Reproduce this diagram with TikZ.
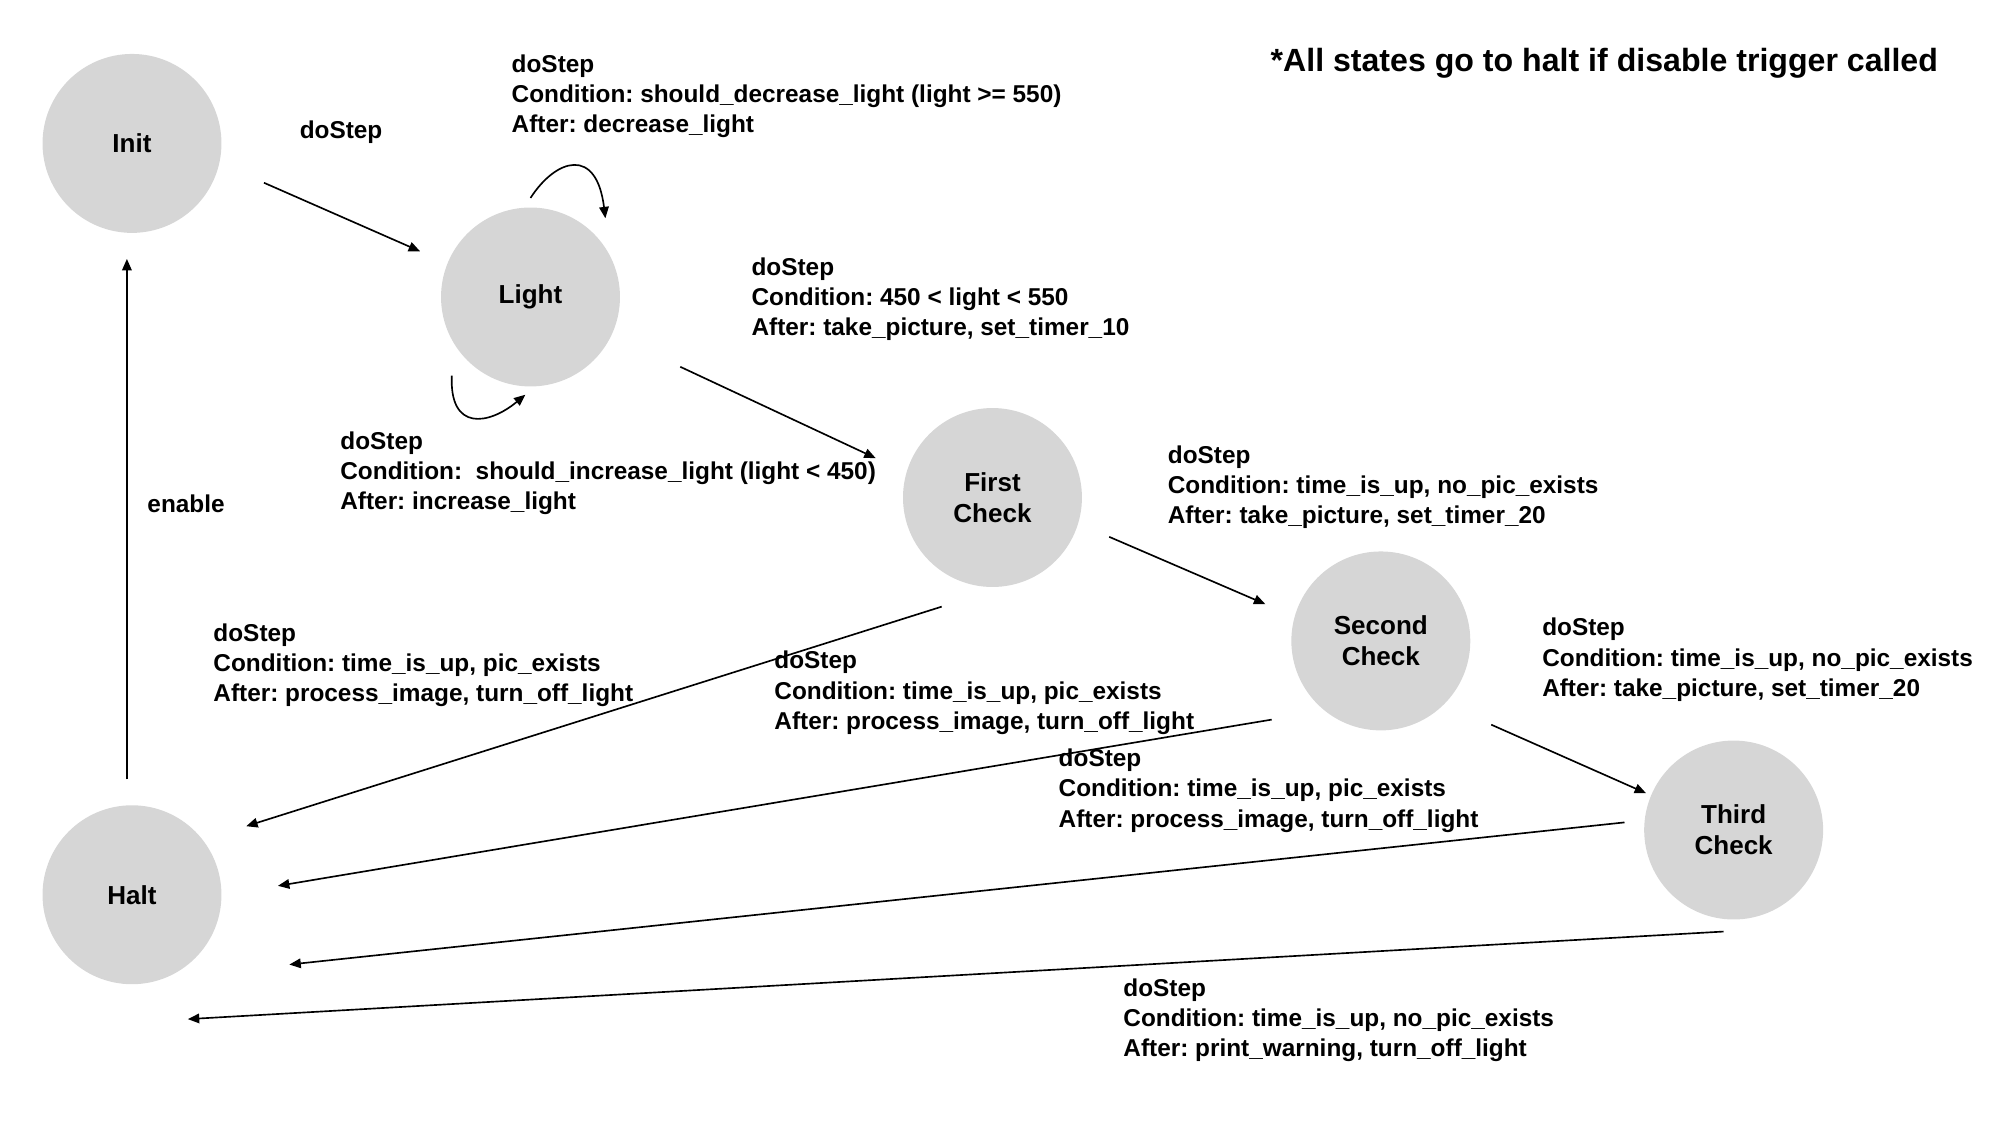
\documentclass[tikz,border=0pt]{standalone}
\usepackage{fontspec}
\setmainfont{Liberation Sans}
\usetikzlibrary{arrows.meta}
\definecolor{stategray}{RGB}{214,214,214}
\newcommand{\lblfont}{\frenchspacing\fontsize{19.2}{23.8}\selectfont\bfseries}
\newcommand{\statefont}{\frenchspacing\fontsize{20.5}{24.5}\selectfont\bfseries}
\newcommand{\notefont}{\frenchspacing\fontsize{25.3}{30}\selectfont\bfseries}
\begin{document}
\begin{tikzpicture}[x=1pt,y=-1pt,
  state/.style={circle, fill=stategray, minimum size=141pt, inner sep=0pt, align=center, font=\statefont},
  lab/.style={anchor=north west, inner sep=0pt, align=left, font=\lblfont},
  conn/.style={line width=1.3pt, -{Triangle[length=9pt,width=7.5pt]}}]
\useasboundingbox (0,0) rectangle (1568,885.6);

% states
\node[state] (init) at (104,113) {Init};
\node[state] (light) at (418,234) {Light};
\node[state] (first) at (782,392) {First\\Check};
\node[state] (second) at (1088,505) {Second\\Check};
\node[state] (third) at (1366,654) {Third\\Check};
\node[state] (halt) at (104,705) {Halt};

% connector end points
\coordinate (a1s) at (208,144);  \coordinate (a1e) at (331,198);
\coordinate (t1s) at (418,156);  \coordinate (t1e) at (477,172);
\coordinate (b1s) at (356,296);  \coordinate (b1e) at (414,311);
\coordinate (a2s) at (536,289);  \coordinate (a2e) at (690,361);
\coordinate (a3s) at (874,423);  \coordinate (a3e) at (997,476);
\coordinate (a4s) at (1175,571); \coordinate (a4e) at (1297,625);
\coordinate (h1s) at (742,478);  \coordinate (h1e) at (194,651);
\coordinate (h2s) at (1002,567); \coordinate (h2e) at (219,698);
\coordinate (h3s) at (1280,648); \coordinate (h3e) at (228,760);
\coordinate (h4s) at (1358,734); \coordinate (h4e) at (148,803);
\coordinate (e1s) at (100,614);  \coordinate (e1e) at (100,204);

% connectors
\draw[conn] (a1s) -- (a1e);
\draw[conn] (t1s) .. controls (438,125) and (470,115) .. (t1e);
\draw[conn] (b1s) .. controls (354,340) and (385,335) .. (b1e);
\draw[conn] (a2s) -- (a2e);
\draw[conn] (a3s) -- (a3e);
\draw[conn] (a4s) -- (a4e);
\draw[conn] (h1s) -- (h1e);
\draw[conn] (h2s) -- (h2e);
\draw[conn] (h3s) -- (h3e);
\draw[conn] (h4s) -- (h4e);
\draw[conn] (e1s) -- (e1e);

% labels
\node[lab] (linit) at (236,95) {doStep};
\node[lab] (ldec) at (403,43) {doStep\\Condition: should\_decrease\_light (light >= 550)\\After: decrease\_light};
\node[lab] (linc) at (268,340) {doStep\\Condition:\ \ should\_increase\_light (light < 450)\\After: increase\_light};
\node[lab] (lfirst) at (592,203) {doStep\\Condition: 450 < light < 550\\After: take\_picture, set\_timer\_10};
\node[lab] (lfs) at (920,351) {doStep\\Condition: time\_is\_up, no\_pic\_exists\\After: take\_picture, set\_timer\_20};
\node[lab] (lst) at (1215,487) {doStep\\Condition: time\_is\_up, no\_pic\_exists\\After: take\_picture, set\_timer\_20};
\node[lab] (lfh) at (168,491) {doStep\\Condition: time\_is\_up, pic\_exists\\After: process\_image, turn\_off\_light};
\node[lab] (lsh) at (610,513) {doStep\\Condition: time\_is\_up, pic\_exists\\After: process\_image, turn\_off\_light};
\node[lab] (lth) at (834,590) {doStep\\Condition: time\_is\_up, pic\_exists\\After: process\_image, turn\_off\_light};
\node[lab] (lwarn) at (885,771) {doStep\\Condition: time\_is\_up, no\_pic\_exists\\After: print\_warning, turn\_off\_light};
\node[lab] (lenable) at (116,390) {enable};
\node[anchor=north west, inner sep=0pt, font=\notefont] (note) at (1001,38) {*All states go to halt if disable trigger called};
\end{tikzpicture}
\end{document}
